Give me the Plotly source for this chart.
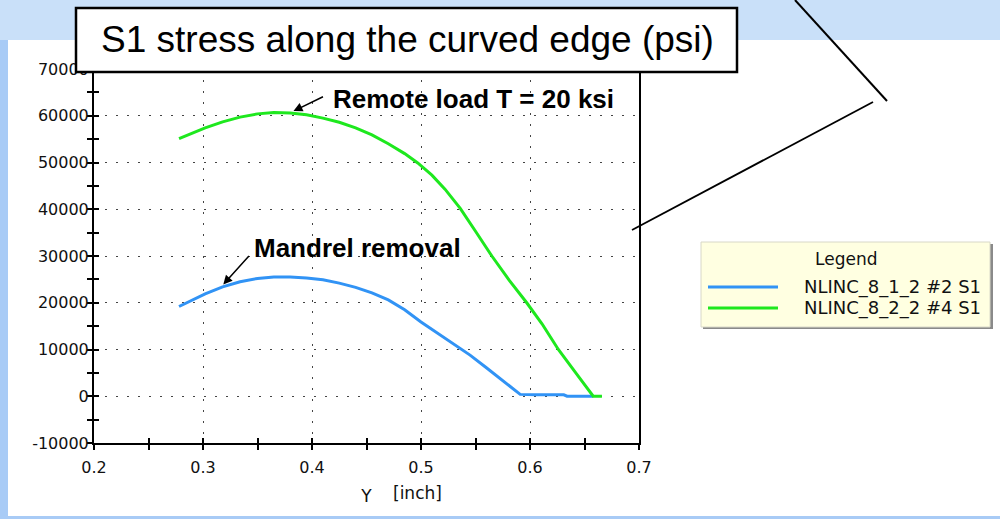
import plotly.graph_objects as go

# S1 stress along the curved edge, two load cases
y_pos_remote = [0.278, 0.290, 0.302, 0.318, 0.334, 0.350, 0.365, 0.380, 0.395, 0.410,
                0.425, 0.440, 0.455, 0.470, 0.485, 0.497, 0.510, 0.522, 0.536, 0.550,
                0.565, 0.581, 0.597, 0.611, 0.626, 0.642, 0.658, 0.666]
s1_remote = [55100, 56300, 57400, 58700, 59700, 60400, 60700, 60600, 60200, 59500,
             58600, 57400, 55900, 54000, 51900, 49900, 47300, 44300, 40200, 35300,
             30000, 24800, 20000, 15500, 10000, 5000, 0, 0]

y_pos_mandrel = [0.278, 0.290, 0.302, 0.318, 0.334, 0.350, 0.365, 0.380, 0.395, 0.410,
                 0.425, 0.440, 0.455, 0.470, 0.485, 0.500, 0.515, 0.530, 0.545, 0.560,
                 0.575, 0.591, 0.605, 0.631, 0.634, 0.658]
s1_mandrel = [19200, 20600, 21900, 23400, 24500, 25200, 25500, 25500, 25300, 24900,
              24200, 23300, 22100, 20600, 18500, 15900, 13500, 11200, 8800, 6100,
              3300, 400, 300, 300, 0, 0]

series_names = ["NLINC_8_1_2 #2 S1", "NLINC_8_2_2 #4 S1"]
series_colors = ["#3193f5", "#1ee81e"]

x_ticks = [0.2, 0.3, 0.4, 0.5, 0.6, 0.7]
y_ticks = [-10000, 0, 10000, 20000, 30000, 40000, 50000, 60000, 70000]

chart_title = "S1 stress along the curved edge (psi)"
note_remote = "Remote load T = 20 ksi"
note_mandrel = "Mandrel removal"

FONT = "Liberation Sans, Arial, sans-serif"
UI_FONT = "DejaVu Sans, Verdana, sans-serif"
W, H = 1000, 519
L, R, T, B = 94, 639, 69, 443


def px_x(p):
    return (p - L) / (R - L)


def px_y(p):
    return (B - p) / (B - T)


fig = go.Figure()
fig.add_trace(go.Scatter(x=y_pos_mandrel, y=s1_mandrel, mode="lines", name=series_names[0],
                         line=dict(color=series_colors[0], width=3)))
fig.add_trace(go.Scatter(x=y_pos_remote, y=s1_remote, mode="lines", name=series_names[1],
                         line=dict(color=series_colors[1], width=3)))
# carrier for the inner half of the crossing tick marks
fig.add_trace(go.Scatter(x=[], y=[], xaxis="x2", yaxis="y2", showlegend=False, hoverinfo="skip"))

axis_font = dict(family=UI_FONT, size=16, color="#111")
grid = dict(showgrid=True, gridcolor="#444", gridwidth=1.2, griddash="2px,9px")

fig.update_layout(
    width=W, height=H,
    margin=dict(l=L, r=W - R, t=T, b=H - B),
    paper_bgcolor="white", plot_bgcolor="white",
    showlegend=False,
    xaxis=dict(range=[0.2, 0.7], tickvals=x_ticks, ticktext=[f"{v:.1f}" for v in x_ticks],
               ticks="outside", ticklen=5, tickwidth=1.5, tickcolor="black",
               minor=dict(dtick=0.05, tick0=0.2, ticks="outside", ticklen=5, tickwidth=1.5,
                          tickcolor="black", showgrid=False),
               showline=True, linecolor="black", linewidth=2, mirror=True, zeroline=False,
               tickfont=axis_font, ticklabelstandoff=4,
               title=dict(text="Y", font=dict(family=UI_FONT, size=17, color="#111"), standoff=14),
               **grid),
    yaxis=dict(range=[-10000, 70000], tickvals=y_ticks, ticktext=[str(v) for v in y_ticks],
               ticks="outside", ticklen=5, tickwidth=1.5, tickcolor="black",
               minor=dict(dtick=5000, tick0=0, ticks="outside", ticklen=5, tickwidth=1.5,
                          tickcolor="black", showgrid=False),
               showline=True, linecolor="black", linewidth=2, mirror=True, zeroline=False,
               tickfont=axis_font, ticklabelstandoff=-5, **grid),
    xaxis2=dict(range=[0.2, 0.7], overlaying="x", anchor="y2", side="bottom",
                tick0=0.2, dtick=0.05, ticks="inside", ticklen=5, tickwidth=1.5,
                tickcolor="black", showticklabels=False, showgrid=False, showline=False,
                zeroline=False),
    yaxis2=dict(range=[-10000, 70000], overlaying="y", anchor="x2", side="left",
                tick0=0, dtick=5000, ticks="inside", ticklen=5, tickwidth=1.5,
                tickcolor="black", showticklabels=False, showgrid=False, showline=False,
                zeroline=False),
)

shapes = []
# slide backdrop: pale blue header band, left strip and bottom rule
shapes.append(dict(type="rect", xref="paper", yref="paper", layer="below",
                   x0=px_x(0), x1=px_x(W), y0=px_y(40), y1=px_y(0),
                   fillcolor="#c9e0f9", line=dict(width=0)))
shapes.append(dict(type="rect", xref="paper", yref="paper", layer="below",
                   x0=px_x(0), x1=px_x(8), y0=px_y(H), y1=px_y(40),
                   fillcolor="#a8cbf6", line=dict(width=0)))
shapes.append(dict(type="rect", xref="paper", yref="paper", layer="below",
                   x0=px_x(0), x1=px_x(W), y0=px_y(H), y1=px_y(516),
                   fillcolor="#a8cbf6", line=dict(width=0)))
# callout lines
shapes.append(dict(type="line", xref="paper", yref="paper", layer="above",
                   x0=px_x(795), y0=px_y(0), x1=px_x(887), y1=px_y(101),
                   line=dict(color="black", width=2)))
shapes.append(dict(type="line", xref="paper", yref="paper", layer="above",
                   x0=px_x(873), y0=px_y(102), x1=px_x(632), y1=px_y(230),
                   line=dict(color="black", width=1.8)))
# title box
shapes.append(dict(type="rect", xref="paper", yref="paper", layer="above",
                   x0=px_x(76), x1=px_x(737), y0=px_y(72), y1=px_y(8),
                   fillcolor="white", line=dict(color="black", width=2.5)))
# legend box with drop shadow
shapes.append(dict(type="rect", xref="paper", yref="paper", layer="above",
                   x0=px_x(703), x1=px_x(993), y0=px_y(329), y1=px_y(244),
                   fillcolor="#8a8a8a", line=dict(width=0)))
shapes.append(dict(type="rect", xref="paper", yref="paper", layer="above",
                   x0=px_x(701), x1=px_x(990), y0=px_y(327), y1=px_y(242),
                   fillcolor="#ffffe1", line=dict(color="#d8d8c8", width=1)))
legend_rows = [287, 308]
for color, yy in zip(series_colors, legend_rows):
    shapes.append(dict(type="line", xref="paper", yref="paper", layer="above",
                       x0=px_x(708), x1=px_x(778), y0=px_y(yy), y1=px_y(yy),
                       line=dict(color=color, width=3)))
fig.update_layout(shapes=shapes)

annotations = [
    dict(xref="paper", yref="paper", x=px_x(407), y=px_y(40), text=chart_title,
         showarrow=False, xanchor="center", yanchor="middle",
         font=dict(family=FONT, size=37, color="black")),
    dict(xref="paper", yref="paper", x=px_x(846), y=px_y(259), text="Legend",
         showarrow=False, xanchor="center", yanchor="middle",
         font=dict(family=UI_FONT, size=17, color="#111")),
    dict(xref="paper", yref="paper", x=px_x(391), y=px_y(493), text="[inch]",
         showarrow=False, xanchor="left", yanchor="middle",
         font=dict(family=UI_FONT, size=17, color="#111")),
    # load-case notes
    dict(xref="paper", yref="paper", x=px_x(331), y=px_y(99), text=f"<b>{note_remote}</b>",
         showarrow=False, xanchor="left", yanchor="middle",
         font=dict(family=FONT, size=26, color="black")),
    dict(xref="paper", yref="paper", x=px_x(252), y=px_y(248), text=f"<b>{note_mandrel}</b>",
         showarrow=False, xanchor="left", yanchor="middle",
         font=dict(family=FONT, size=26, color="black")),
    dict(x=0.383, y=61000, xref="x", yref="y", text="", showarrow=True,
         ax=31, ay=-15, arrowhead=2, arrowsize=1.2, arrowwidth=1.5, arrowcolor="black"),
    dict(x=0.3186, y=23900, xref="x", yref="y", text="", showarrow=True,
         ax=27, ay=-30, arrowhead=2, arrowsize=1.2, arrowwidth=1.5, arrowcolor="black"),
]
for name, yy in zip(series_names, legend_rows):
    annotations.append(dict(xref="paper", yref="paper", x=px_x(802), y=px_y(yy), text=name,
                            showarrow=False, xanchor="left", yanchor="middle",
                            font=dict(family=UI_FONT, size=18, color="#111")))
fig.update_layout(annotations=annotations)

fig.write_html("out.html")
